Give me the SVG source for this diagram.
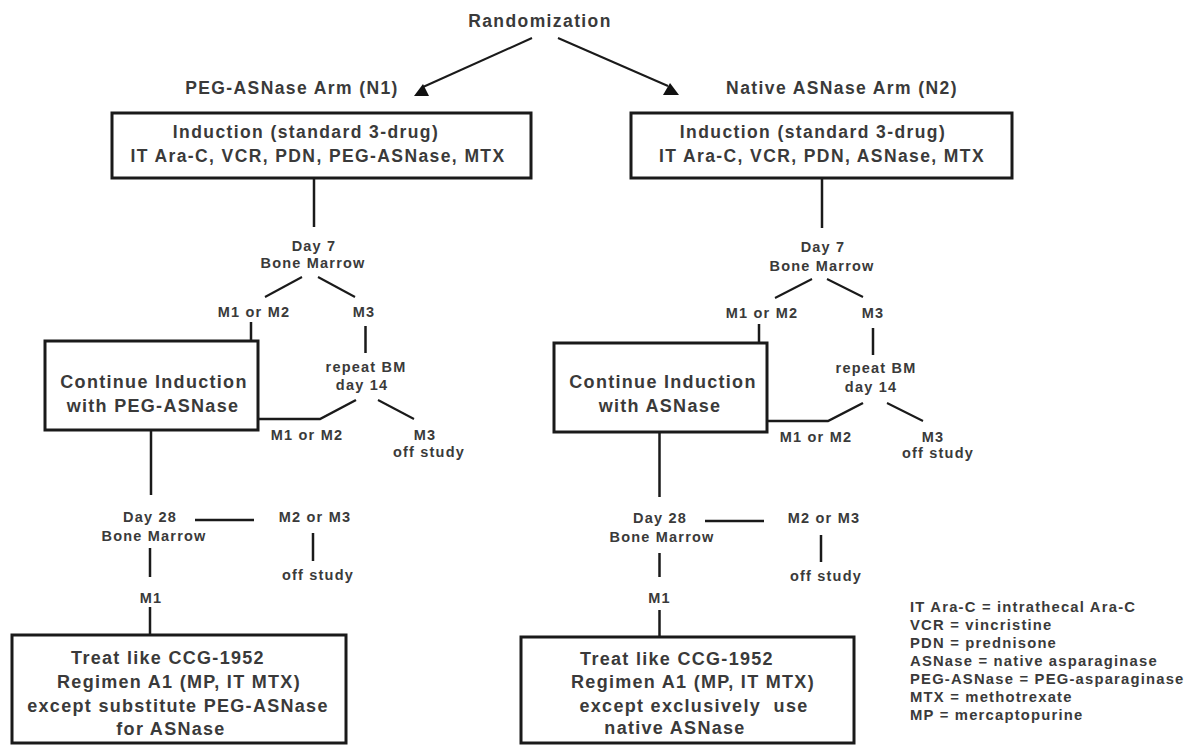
<svg xmlns="http://www.w3.org/2000/svg" width="1193" height="746" viewBox="0 0 1193 746">
<style>
text{font-family:"Liberation Sans",Arial,sans-serif;font-weight:bold;fill:#3a3a3a;text-anchor:middle}
.big{font-size:17.5px;letter-spacing:1.4px}
.box{font-size:18px;letter-spacing:1.3px}
.sm{font-size:14.5px;letter-spacing:1.2px}
.leg{font-size:14.8px;letter-spacing:1.2px;text-anchor:start}
.bx{fill:#fff;stroke:#1a1a1a;stroke-width:3}
.ln{stroke:#1a1a1a;stroke-width:2.5;fill:none}
.dg{stroke:#1a1a1a;stroke-width:2;fill:none}
.ah{fill:#111}
</style>
<rect width="1193" height="746" fill="#fff"/>
<g id="connectors">
<line class="dg" x1="532" y1="38" x2="423" y2="87"/>
<polygon class="ah" points="414,96 429,96 423,84"/>
<line class="dg" x1="558" y1="38" x2="668" y2="86"/>
<polygon class="ah" points="663,95 679,95 670,83"/>
<line class="ln" x1="314" y1="178" x2="314" y2="227"/>
<line class="ln" x1="822" y1="178" x2="822" y2="228"/>
<line class="dg" x1="302" y1="277" x2="265" y2="297"/>
<line class="dg" x1="318" y1="277" x2="355" y2="297"/>
<line class="dg" x1="812" y1="279" x2="775" y2="298"/>
<line class="dg" x1="827" y1="279" x2="863" y2="297"/>
<line class="ln" x1="251" y1="322" x2="251" y2="341"/>
<line class="ln" x1="759" y1="324" x2="759" y2="343"/>
<line class="ln" x1="365.5" y1="326" x2="365.5" y2="353"/>
<line class="ln" x1="873" y1="328" x2="873" y2="355"/>
<polyline class="ln" points="356,400 320,419 258,419"/>
<line class="dg" x1="378" y1="400" x2="414" y2="419"/>
<polyline class="ln" points="863,403 828,421 767,421"/>
<line class="dg" x1="887" y1="403" x2="923" y2="421"/>
<line class="ln" x1="151" y1="430" x2="151" y2="495"/>
<line class="ln" x1="659.5" y1="432" x2="659.5" y2="497"/>
<line class="ln" x1="195" y1="520" x2="254" y2="520"/>
<line class="ln" x1="705" y1="521" x2="764" y2="521"/>
<line class="ln" x1="313" y1="533" x2="313" y2="561"/>
<line class="ln" x1="821" y1="535" x2="821" y2="562"/>
<line class="ln" x1="150" y1="548" x2="150" y2="577"/>
<line class="ln" x1="659.5" y1="553" x2="659.5" y2="577"/>
<line class="ln" x1="150" y1="607" x2="150" y2="635"/>
<line class="ln" x1="659.5" y1="610" x2="659.5" y2="637"/>
</g>
<g id="randomization"><text class="big" x="540" y="27">Randomization</text></g>
<g id="arm1"><text class="big" x="292" y="94">PEG-ASNase Arm (N1)</text></g>
<g id="arm2"><text class="big" x="842" y="94">Native ASNase Arm (N2)</text></g>
<g id="induction1">
<rect class="bx" x="112" y="113" width="419" height="65"/>
<text class="big" x="306" y="138">Induction (standard 3-drug)</text>
<text class="big" x="318" y="162">IT Ara-C, VCR, PDN, PEG-ASNase, MTX</text>
</g>
<g id="induction2">
<rect class="bx" x="631" y="113" width="381" height="65"/>
<text class="big" x="813" y="138">Induction (standard 3-drug)</text>
<text class="big" x="822" y="162">IT Ara-C, VCR, PDN, ASNase, MTX</text>
</g>
<g id="day7a"><text class="sm" x="314" y="251">Day 7</text><text class="sm" x="313" y="268">Bone Marrow</text></g>
<g id="day7b"><text class="sm" x="823" y="252">Day 7</text><text class="sm" x="822" y="271">Bone Marrow</text></g>
<g id="m12a"><text class="sm" x="254" y="317">M1 or M2</text></g>
<g id="m3a"><text class="sm" x="364" y="317">M3</text></g>
<g id="m12b"><text class="sm" x="762" y="318">M1 or M2</text></g>
<g id="m3b"><text class="sm" x="873" y="318">M3</text></g>
<g id="continue1">
<rect class="bx" x="45" y="341" width="213" height="89"/>
<text class="box" x="154" y="388">Continue Induction</text>
<text class="box" x="153" y="412">with PEG-ASNase</text>
</g>
<g id="continue2">
<rect class="bx" x="554" y="343" width="213" height="89"/>
<text class="box" x="663" y="388">Continue Induction</text>
<text class="box" x="660" y="412">with ASNase</text>
</g>
<g id="repeat1"><text class="sm" x="366" y="372">repeat BM</text><text class="sm" x="362" y="390">day 14</text></g>
<g id="repeat2"><text class="sm" x="876" y="373">repeat BM</text><text class="sm" x="871" y="392">day 14</text></g>
<g id="m12c"><text class="sm" x="307" y="440">M1 or M2</text></g>
<g id="off1"><text class="sm" x="425" y="440">M3</text><text class="sm" x="429" y="457">off study</text></g>
<g id="m12d"><text class="sm" x="816" y="442">M1 or M2</text></g>
<g id="off2"><text class="sm" x="933" y="442">M3</text><text class="sm" x="938" y="458">off study</text></g>
<g id="day28a"><text class="sm" x="150" y="522">Day 28</text><text class="sm" x="154" y="541">Bone Marrow</text></g>
<g id="day28b"><text class="sm" x="660" y="523">Day 28</text><text class="sm" x="662" y="542">Bone Marrow</text></g>
<g id="m23a"><text class="sm" x="315" y="522">M2 or M3</text></g>
<g id="m23b"><text class="sm" x="824" y="523">M2 or M3</text></g>
<g id="offa"><text class="sm" x="318" y="580">off study</text></g>
<g id="offb"><text class="sm" x="826" y="581">off study</text></g>
<g id="m1a"><text class="sm" x="151" y="603">M1</text></g>
<g id="m1b"><text class="sm" x="659.5" y="603">M1</text></g>
<g id="treat1">
<rect class="bx" x="12" y="635" width="334" height="108"/>
<text class="box" x="168" y="664">Treat like CCG-1952</text>
<text class="box" x="179" y="688">Regimen A1 (MP, IT MTX)</text>
<text class="box" x="178" y="712">except substitute PEG-ASNase</text>
<text class="box" x="171" y="735">for ASNase</text>
</g>
<g id="treat2">
<rect class="bx" x="521" y="637" width="333" height="106"/>
<text class="box" x="677" y="665">Treat like CCG-1952</text>
<text class="box" x="693" y="688">Regimen A1 (MP, IT MTX)</text>
<text class="box" x="694" y="712" xml:space="preserve">except exclusively  use</text>
<text class="box" x="675" y="734">native ASNase</text>
</g>
<g id="legend">
<text class="leg" x="910" y="612">IT Ara-C = intrathecal Ara-C</text>
<text class="leg" x="910" y="630">VCR = vincristine</text>
<text class="leg" x="910" y="648">PDN = prednisone</text>
<text class="leg" x="910" y="666">ASNase = native asparaginase</text>
<text class="leg" x="910" y="684">PEG-ASNase = PEG-asparaginase</text>
<text class="leg" x="910" y="702">MTX = methotrexate</text>
<text class="leg" x="910" y="720">MP = mercaptopurine</text>
</g>
</svg>
